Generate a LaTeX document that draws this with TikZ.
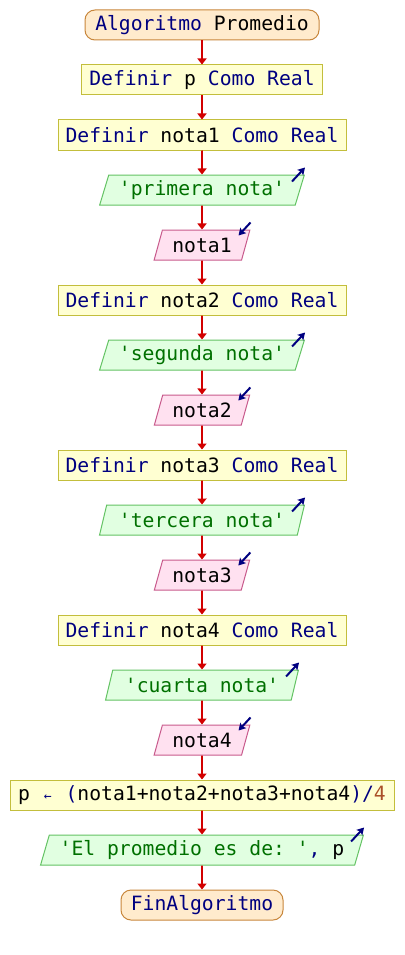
\documentclass[tikz,border=0pt]{standalone}
\usepackage{fontspec}
\setmonofont{DejaVu Sans Mono}
\usetikzlibrary{shapes.geometric,arrows.meta}

\definecolor{kwblue}{RGB}{0,0,128}
\definecolor{strgreen}{RGB}{0,112,0}
\definecolor{numbrown}{RGB}{170,80,40}
\definecolor{flowred}{RGB}{210,0,0}
\definecolor{termfill}{RGB}{255,235,205}
\definecolor{termline}{RGB}{200,135,60}
\definecolor{procfill}{RGB}{255,255,210}
\definecolor{procline}{RGB}{195,190,60}
\definecolor{outfill}{RGB}{225,255,225}
\definecolor{outline}{RGB}{100,195,100}
\definecolor{infill}{RGB}{255,225,240}
\definecolor{inline}{RGB}{200,90,140}

\newcommand{\kwd}[1]{\textcolor{kwblue}{#1}}
\newcommand{\strg}[1]{\textcolor{strgreen}{#1}}
\newcommand{\numb}[1]{\textcolor{numbrown}{#1}}
% assignment arrow, set smaller but keeping one character cell
\newcommand{\assignarrow}{\makebox[0.602em]{\kwd{\fontsize{13}{15}\selectfont ←}}}

\tikzset{
  base/.style={font=\ttfamily\fontsize{19.7}{22}\selectfont, inner sep=0pt,
    minimum height=30pt, line width=1pt},
  termbox/.style={base, rectangle, rounded corners=10pt, draw=termline, fill=termfill},
  procbox/.style={base, rectangle, draw=procline, fill=procfill},
  para/.style={base, trapezium, trapezium left angle=67, trapezium right angle=113,
    trapezium stretches=true},
  outbox/.style={para, draw=outline, fill=outfill},
  inbox/.style={para, draw=inline, fill=infill},
  flow/.style={draw=flowred, line width=1.6pt, -{Triangle[length=6pt,width=9pt]}},
  iomark/.style={draw=kwblue, line width=2pt, -{Stealth[length=7pt,width=8pt,inset=1.5pt]}}
}

\begin{document}
\begin{tikzpicture}[x=1pt,y=-1pt]
\useasboundingbox (0,0) rectangle (404,955);
\fill[white] (0,0) rectangle (404,955);

\node[termbox, minimum width=234pt] (start) at (202,25) {\kwd{Algoritmo} Promedio};
\node[procbox, minimum width=241pt] (d0) at (202,80) {\kwd{Definir} p \kwd{Como Real}};
\node[procbox, minimum width=288pt] (d1) at (202,135) {\kwd{Definir} nota1 \kwd{Como Real}};
\node[outbox, minimum width=205pt] (o1) at (202,190) {\strg{'primera nota'}};
\node[inbox, minimum width=96pt] (i1) at (202,245) {nota1};
\node[procbox, minimum width=288pt] (d2) at (202,300) {\kwd{Definir} nota2 \kwd{Como Real}};
\node[outbox, minimum width=205pt] (o2) at (202,355) {\strg{'segunda nota'}};
\node[inbox, minimum width=96pt] (i2) at (202,410) {nota2};
\node[procbox, minimum width=288pt] (d3) at (202,465) {\kwd{Definir} nota3 \kwd{Como Real}};
\node[outbox, minimum width=205pt] (o3) at (202,520) {\strg{'tercera nota'}};
\node[inbox, minimum width=96pt] (i3) at (202,575) {nota3};
\node[procbox, minimum width=288pt] (d4) at (202,630) {\kwd{Definir} nota4 \kwd{Como Real}};
\node[outbox, minimum width=193pt] (o4) at (202,685) {\strg{'cuarta nota'}};
\node[inbox, minimum width=96pt] (i4) at (202,740) {nota4};
\node[procbox, minimum width=384pt] (calc) at (202,795) {p \assignarrow{} \kwd{(}nota1+nota2+nota3+nota4\kwd{)/}\numb{4}};
\node[outbox, minimum width=324pt] (res) at (202,850) {\strg{'El promedio es de: '}\kwd{,} p};
\node[termbox, minimum width=162pt] (stop) at (202,905) {\kwd{FinAlgoritmo}};

% control flow
\foreach \a/\b in {start/d0, d0/d1, d1/o1, o1/i1, i1/d2, d2/o2, o2/i2, i2/d3,
                   d3/o3, o3/i3, i3/d4, d4/o4, o4/i4, i4/calc, calc/res, res/stop}
  \draw[flow] (\a.south) -- (\b.north);

% output marks (arrow leaving the top right corner)
\foreach \n in {o1, o2, o3, o4, res}
  \draw[iomark] ([shift={(-13,7)}]\n.top right corner) -- ([shift={(0,-7)}]\n.top right corner);

% input marks (arrow entering the top right corner)
\foreach \n in {i1, i2, i3, i4}
  \draw[iomark] ([shift={(0,-7)}]\n.top right corner) -- ([shift={(-12,6)}]\n.top right corner);
\end{tikzpicture}
\end{document}
